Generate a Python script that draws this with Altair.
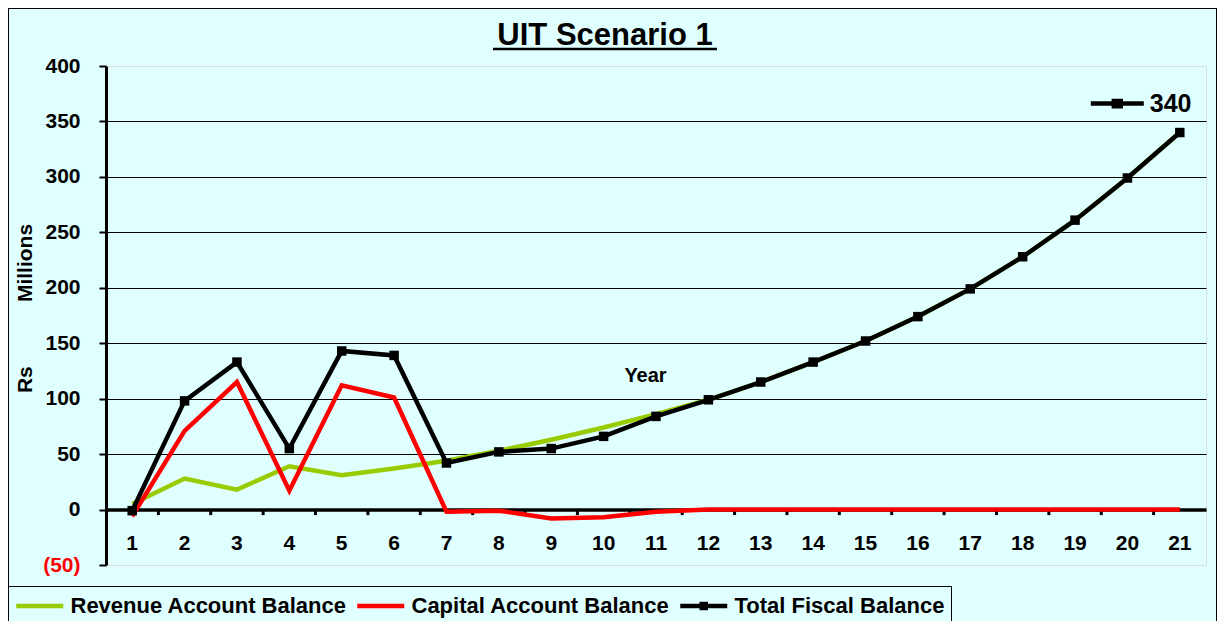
import altair as alt
import pandas as pd

# ---------------- data ----------------
years = list(range(1, 22))
revenue = [5, 28, 18, 39, 31, 37, 44, 53, 63, 74, 86, 99, 115, 133, 152, 174, 199, 228, 261, 299, 340]
capital = [-6, 71, 115, 17, 112, 101, -2, -1, -8, -7, -2, 0, 0, 0, 0, 0, 0, 0, 0, 0, 0]
total = [-1, 98, 133, 55, 143, 139, 42, 52, 55, 66, 84, 99, 115, 133, 152, 174, 199, 228, 261, 299, 340]

series_names = ["Revenue Account Balance", "Capital Account Balance", "Total Fiscal Balance"]
series_colors = ["#99CC00", "#FF0000", "#000000"]
y_ticks = [-50, 0, 50, 100, 150, 200, 250, 300, 350, 400]
Y_MIN, Y_MAX = -50, 400
chart_title = "UIT Scenario 1"

rows = []
for name, vals in zip(series_names, [revenue, capital, total]):
    for yr, v in zip(years, vals):
        rows.append({"year": yr, "series": name, "value": v})
df = pd.DataFrame(rows)
tick_df = pd.DataFrame({"year": years[1:]})

# ---------------- layout ----------------
W, H = 1100, 499
PAD_L, PAD_T = 98, 58
TOTAL_W, TOTAL_H = 1209, 613
PAD_R = TOTAL_W - PAD_L - W
PAD_B = TOTAL_H - PAD_T - H
zero_offset = -(H * (0 - Y_MIN) / (Y_MAX - Y_MIN))

FONT = "Liberation Sans"
BG = "#E0FFFF"
LINE_W = 4.5

x_scale = alt.Scale(type="band", paddingInner=0, paddingOuter=0)
y_scale = alt.Scale(domain=[Y_MIN, Y_MAX], nice=False, zero=False)

x_axis = alt.Axis(
    orient="bottom", offset=zero_offset, domainColor="#000000", domainWidth=3.5,
    ticks=False, tickSize=0, labelPadding=23, labelAngle=0, labelFontSize=21,
    labelFontWeight="bold", labelColor="#000000", labelFont=FONT, grid=False,
    title="Year", titleX=539, titleY=-134, titleBaseline="middle", titleFontSize=20,
    titleFontWeight="bold", titleFont=FONT, titleColor="#000000",
)
y_axis = alt.Axis(
    values=y_ticks,
    labelExpr="datum.value < 0 ? '(' + format(-datum.value, 'd') + ')' : format(datum.value, 'd')",
    labelColor=alt.condition("datum.value < 0", alt.value("#FF0000"), alt.value("#000000")),
    labelFontSize=21, labelFontWeight="bold", labelFont=FONT, labelPadding=19,
    domainColor="#000000", domainWidth=3, tickColor="#000000", tickWidth=2, tickSize=7,
    grid=True, gridWidth=1,
    gridColor=alt.condition("datum.value == 400 || datum.value == -50", alt.value("transparent"), alt.value("#000000")),
    title="Rs" + "\u00a0" * 10 + " Millions", titleX=-81, titleY=242, titleAngle=270,
    titleBaseline="middle", titleAlign="center", titleFontSize=21, titleFontWeight="bold",
    titleFont=FONT, titleColor="#000000",
)

# legend key: a line 4x the nominal symbol size wide, drawn to the right of the symbol slot
KEY_R = 11.75
line_key = "M-1,0H3"
total_key = "M-1,0H3M0.83,-0.17H1.17V0.17H0.83Z"
legend = alt.Legend(
    orient="none", legendX=-PAD_L, legendY=520, direction="horizontal", title=None,
    symbolType=alt.ExprRef(expr="datum.value == 'Total Fiscal Balance' ? '" + total_key + "' : '" + line_key + "'"),
    symbolSize=(2 * KEY_R) ** 2, symbolStrokeWidth=LINE_W, labelFont=FONT, labelFontSize=22,
    labelFontWeight="bold", labelColor="#000000", labelOffset=5 + 2 * KEY_R, labelLimit=500,
    columnPadding=1, padding=6, strokeColor="#000000", fillColor=BG,
)
color_enc = alt.Color("series:N", scale=alt.Scale(domain=series_names, range=series_colors), legend=legend)

base = alt.Chart(df)

ticks_layer = alt.Chart(tick_df).mark_rule(color="#000000", strokeWidth=3).encode(
    x=alt.X("year:O", scale=x_scale, bandPosition=0, axis=x_axis),
    y=alt.datum(0, scale=y_scale, axis=y_axis),
    y2=alt.datum(-5),
)

line_layers = []
for name in series_names:
    line_layers.append(
        base.transform_filter(alt.datum.series == name).mark_line(strokeWidth=LINE_W).encode(
            x=alt.X("year:O", scale=x_scale),
            y=alt.Y("value:Q", scale=y_scale),
            color=color_enc,
        )
    )

points = base.transform_filter(alt.datum.series == "Total Fiscal Balance").mark_point(
    shape="square", filled=True, size=90, color="#000000", opacity=1
).encode(x=alt.X("year:O", scale=x_scale), y=alt.Y("value:Q", scale=y_scale))

last = base.transform_filter((alt.datum.series == "Total Fiscal Balance") & (alt.datum.year == 21))
last_label = last.mark_text(
    align="left", baseline="middle", dx=-30, dy=-29, fontSize=25, fontWeight="bold",
    font=FONT, color="#000000"
).encode(x=alt.X("year:O", scale=x_scale), y=alt.Y("value:Q", scale=y_scale),
         text=alt.Text("value:Q", format="d"))
last_key = last.mark_point(
    shape="M-1,0H1M-0.13,-0.1H0.13V0.1H-0.13Z", size=2809, filled=True, fill="#000000",
    stroke="#000000", strokeWidth=LINE_W, opacity=1, xOffset=-62.5, yOffset=-29
).encode(x=alt.X("year:O", scale=x_scale), y=alt.Y("value:Q", scale=y_scale))

deco = alt.Chart(pd.DataFrame({"k": [0]}))
title_text = deco.mark_text(
    fontSize=31, fontWeight="bold", font=FONT, color="#000000", align="center", baseline="alphabetic"
).encode(x=alt.value(499), y=alt.value(-21), text=alt.value(chart_title))
underline = deco.mark_rule(color="#000000", strokeWidth=2.5).encode(
    x=alt.value(387), x2=alt.value(611), y=alt.value(-17))
border_left = deco.mark_rule(color="#000000", strokeWidth=1).encode(
    x=alt.value(-PAD_L + 0.5), y=alt.value(-PAD_T + 0.5), y2=alt.value(H + PAD_B))
border_top = deco.mark_rule(color="#000000", strokeWidth=1).encode(
    x=alt.value(-PAD_L), x2=alt.value(W + PAD_R), y=alt.value(-PAD_T + 0.5))
border_right = deco.mark_rule(color="#000000", strokeWidth=1).encode(
    x=alt.value(W + PAD_R - 0.5), y=alt.value(-PAD_T), y2=alt.value(H + PAD_B))

chart = alt.layer(
    ticks_layer, *line_layers, points, last_label, last_key,
    title_text, underline, border_left, border_top, border_right,
).properties(
    width=W, height=H,
    padding={"left": PAD_L, "top": PAD_T, "right": PAD_R, "bottom": PAD_B},
    autosize=alt.AutoSizeParams(type="none"),
    background=BG,
).configure_view(
    fill="#FFFFCC", stroke="#808080", strokeWidth=2
).configure(font=FONT)

chart.save("out.html", embed_options={"renderer": "svg", "actions": False})
